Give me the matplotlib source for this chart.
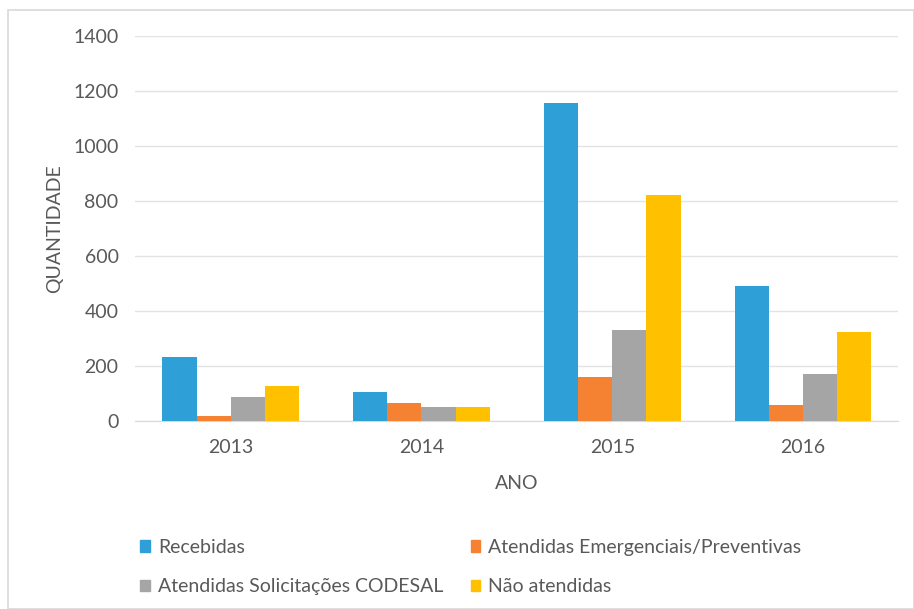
import numpy as np
import matplotlib
matplotlib.use('Agg')
from matplotlib import pyplot as plt
from matplotlib.patches import Rectangle, Patch

anos = ['2013', '2014', '2015', '2016']
recebidas = [233, 105, 1156, 491]
emergenciais = [18, 65, 160, 58]
codesal = [87, 51, 331, 171]
nao_atendidas = [127, 51, 822, 324]

series = [
    ('Recebidas', recebidas, '#2F9FD8'),
    ('Atendidas Emergenciais/Preventivas', emergenciais, '#F58232'),
    ('Atendidas Solicitações CODESAL', codesal, '#A5A5A5'),
    ('Não atendidas', nao_atendidas, '#FFC000'),
]

plt.rcParams['font.family'] = ['Lato', 'DejaVu Sans']
cinza = '#595959'

fig = plt.figure(figsize=(9.14, 6.09), dpi=100)
fig.patches.append(Rectangle((0.009, 0.0), 0.991, 0.983, transform=fig.transFigure,
                             fill=False, edgecolor='#D9D9D9', linewidth=1.2))

ax = fig.add_axes([0.148, 0.309, 0.835, 0.632])

x = np.arange(len(anos))
w = 0.179
handles = {}
for i, (nome, vals, cor) in enumerate(series):
    ax.bar(x + (i - 1.5) * w, vals, w, color=cor, label=nome, zorder=3)
    handles[nome] = Patch(color=cor, label=nome)

ax.set_xlim(-0.5, 3.5)
ax.set_ylim(0, 1400)
ax.set_yticks(range(0, 1401, 200))
ax.set_xticks(x)
ax.set_xticklabels(anos)
ax.grid(axis='y', color='#E3E3E3', linewidth=1, zorder=0)
for s in ['top', 'right', 'left']:
    ax.spines[s].set_visible(False)
ax.spines['bottom'].set_color('#D9D9D9')
ax.tick_params(axis='both', length=0, labelsize=14, colors=cinza)
ax.tick_params(axis='x', pad=13)
ax.tick_params(axis='y', pad=12)
ax.set_xlabel('ANO', fontsize=14, color=cinza, labelpad=14)
ax.set_ylabel('QUANTIDADE', fontsize=14, color=cinza, labelpad=7)

ordem = ['Recebidas', 'Atendidas Solicitações CODESAL',
         'Atendidas Emergenciais/Preventivas', 'Não atendidas']
leg = fig.legend([handles[n] for n in ordem], ordem, ncol=2, loc='upper left',
                 bbox_to_anchor=(0.143, 0.131), frameon=False, fontsize=14,
                 borderpad=0, handlelength=0.5, handleheight=0.5, handletextpad=0.4,
                 columnspacing=1.4, labelspacing=1.15)
for t in leg.get_texts():
    t.set_color(cinza)

fig.savefig('out.png', dpi=100)
